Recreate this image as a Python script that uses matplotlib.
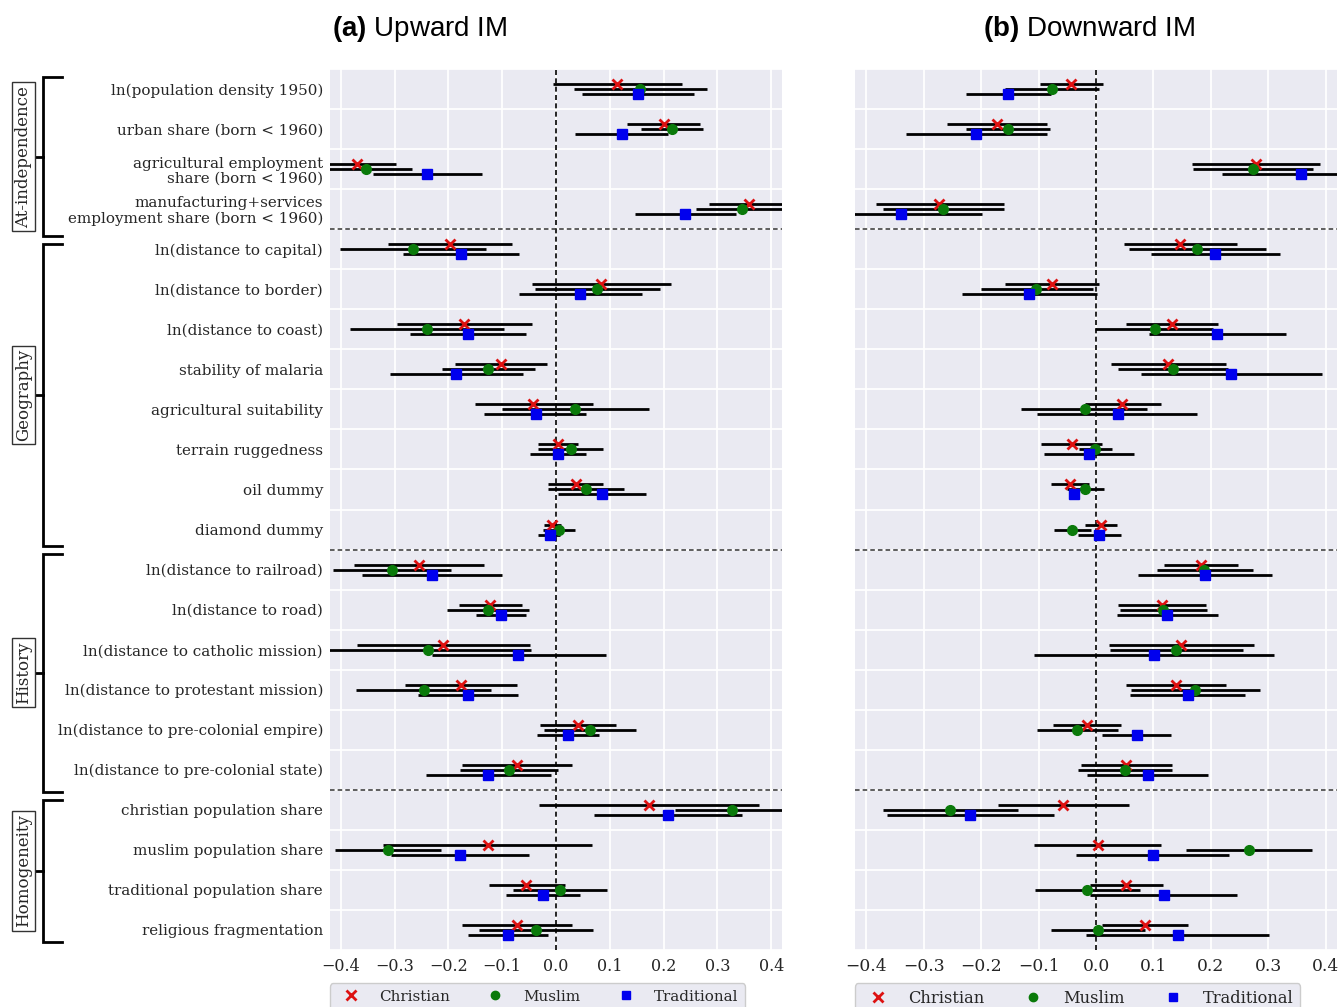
import matplotlib
matplotlib.use("Agg")
import matplotlib.pyplot as plt
import matplotlib.transforms as mtransforms
from matplotlib.lines import Line2D
import numpy as np

# ---------------- data ----------------
labels = [
    "ln(population density 1950)",
    "urban share (born < 1960)",
    "agricultural employment\nshare (born < 1960)",
    "manufacturing+services\nemployment share (born < 1960)",
    "ln(distance to capital)",
    "ln(distance to border)",
    "ln(distance to coast)",
    "stability of malaria",
    "agricultural suitability",
    "terrain ruggedness",
    "oil dummy",
    "diamond dummy",
    "ln(distance to railroad)",
    "ln(distance to road)",
    "ln(distance to catholic mission)",
    "ln(distance to protestant mission)",
    "ln(distance to pre-colonial empire)",
    "ln(distance to pre-colonial state)",
    "christian population share",
    "muslim population share",
    "traditional population share",
    "religious fragmentation",
]
groups = ["At-independence", "Geography", "History", "Homogeneity"]
group_spans = [(-0.3, 3.68), (3.88, 11.4), (11.6, 17.55), (17.75, 21.3)]
separators = [3.5, 11.5, 17.5]
series = ["Christian", "Muslim", "Traditional"]

# Panel (a) Upward IM
up_chr = [0.114, 0.200, -0.370, 0.359, -0.197, 0.084, -0.171, -0.103, -0.042, 0.003, 0.037, -0.007,
          -0.255, -0.123, -0.210, -0.177, 0.040, -0.073, 0.172, -0.127, -0.055, -0.073]
up_chr_lo = [-0.005, 0.132, -0.442, 0.285, -0.312, -0.044, -0.296, -0.188, -0.150, -0.034, -0.015, -0.023,
             -0.375, -0.181, -0.369, -0.281, -0.030, -0.174, -0.032, -0.321, -0.125, -0.174]
up_chr_hi = [0.234, 0.268, -0.298, 0.433, -0.081, 0.213, -0.045, -0.017, 0.068, 0.040, 0.088, 0.009,
             -0.134, -0.064, -0.049, -0.073, 0.112, 0.030, 0.377, 0.067, 0.016, 0.029]
up_mus = [0.156, 0.216, -0.353, 0.345, -0.265, 0.076, -0.239, -0.126, 0.036, 0.027, 0.055, 0.006,
          -0.305, -0.126, -0.237, -0.246, 0.064, -0.088, 0.327, -0.312, 0.007, -0.037]
up_mus_lo = [0.034, 0.158, -0.439, 0.261, -0.401, -0.039, -0.382, -0.212, -0.100, -0.033, -0.015, -0.024,
             -0.414, -0.202, -0.427, -0.371, -0.022, -0.179, 0.222, -0.411, -0.079, -0.143]
up_mus_hi = [0.280, 0.274, -0.267, 0.429, -0.130, 0.194, -0.096, -0.039, 0.172, 0.087, 0.126, 0.035,
             -0.196, -0.050, -0.047, -0.120, 0.149, 0.003, 0.432, -0.213, 0.095, 0.068]
up_tra = [0.153, 0.122, -0.239, 0.240, -0.176, 0.045, -0.164, -0.186, -0.038, 0.003, 0.086, -0.012,
          -0.231, -0.102, -0.070, -0.164, 0.022, -0.126, 0.208, -0.179, -0.024, -0.089]
up_tra_lo = [0.049, 0.035, -0.341, 0.146, -0.285, -0.069, -0.271, -0.308, -0.133, -0.048, 0.003, -0.033,
             -0.360, -0.148, -0.231, -0.256, -0.035, -0.241, 0.071, -0.307, -0.092, -0.163]
up_tra_hi = [0.257, 0.209, -0.137, 0.334, -0.068, 0.160, -0.056, -0.062, 0.056, 0.055, 0.168, 0.007,
             -0.101, -0.055, 0.092, -0.071, 0.079, -0.009, 0.345, -0.051, 0.045, -0.014]

# Panel (b) Downward IM
dn_chr = [-0.043, -0.173, 0.278, -0.273, 0.147, -0.077, 0.132, 0.126, 0.046, -0.042, -0.046, 0.008,
          0.183, 0.115, 0.148, 0.139, -0.016, 0.052, -0.057, 0.003, 0.053, 0.086]
dn_chr_lo = [-0.098, -0.260, 0.168, -0.384, 0.049, -0.159, 0.052, 0.026, -0.020, -0.095, -0.078, -0.020,
             0.118, 0.039, 0.022, 0.052, -0.075, -0.027, -0.171, -0.108, -0.011, 0.011]
dn_chr_hi = [0.012, -0.085, 0.390, -0.160, 0.245, 0.006, 0.213, 0.227, 0.113, 0.011, -0.013, 0.037,
             0.248, 0.191, 0.276, 0.227, 0.043, 0.132, 0.058, 0.114, 0.117, 0.161]
dn_mus = [-0.077, -0.154, 0.273, -0.267, 0.176, -0.104, 0.102, 0.135, -0.020, -0.001, -0.019, -0.041,
          0.189, 0.117, 0.140, 0.172, -0.033, 0.051, -0.254, 0.266, -0.015, 0.003]
dn_mus_lo = [-0.158, -0.227, 0.169, -0.371, 0.058, -0.201, -0.001, 0.038, -0.131, -0.030, -0.050, -0.074,
             0.106, 0.041, 0.024, 0.061, -0.103, -0.031, -0.371, 0.156, -0.107, -0.079]
dn_mus_hi = [0.005, -0.080, 0.378, -0.161, 0.296, -0.006, 0.204, 0.230, 0.089, 0.028, 0.014, -0.009,
             0.273, 0.193, 0.257, 0.285, 0.038, 0.133, -0.136, 0.376, 0.077, 0.086]
dn_tra = [-0.153, -0.209, 0.357, -0.339, 0.208, -0.116, 0.211, 0.236, 0.038, -0.012, -0.038, 0.006,
          0.190, 0.124, 0.101, 0.160, 0.071, 0.090, -0.219, 0.099, 0.118, 0.143]
dn_tra_lo = [-0.227, -0.331, 0.219, -0.479, 0.096, -0.233, 0.092, 0.079, -0.102, -0.090, -0.043, -0.032,
             0.074, 0.036, -0.108, 0.060, 0.011, -0.016, -0.364, -0.034, -0.010, -0.017]
dn_tra_hi = [-0.079, -0.086, 0.495, -0.199, 0.321, 0.001, 0.331, 0.394, 0.176, 0.067, -0.033, 0.043,
             0.307, 0.213, 0.310, 0.259, 0.131, 0.196, -0.073, 0.231, 0.245, 0.302]

xticks = [-0.4, -0.3, -0.2, -0.1, 0.0, 0.1, 0.2, 0.3, 0.4]

# ---------------- style ----------------
W, H = 1339, 1007
plt.rcParams["font.family"] = ["DejaVu Serif"]
plt.rcParams["mathtext.fontset"] = "custom"
plt.rcParams["mathtext.bf"] = "Liberation Sans:bold"
plt.rcParams["mathtext.rm"] = "Liberation Sans"

BG = "#EAEAF2"
TXT = "#262626"
colors = ["#dd1111", "#0a7a0a", "#0000ee"]
markers = ["x", "o", "s"]
offsets = [-0.125, 0.0, 0.125]

fig = plt.figure(figsize=(W / 100, H / 100), dpi=100)
fig.patch.set_facecolor("white")

ax_a = fig.add_axes([330 / W, (H - 950) / H, 452 / W, 881 / H])
ax_b = fig.add_axes([855 / W, (H - 950) / H, 482 / W, 881 / H])

# (axis, data, xtick font size, legend font size)
panels = [
    (ax_a, [(up_chr, up_chr_lo, up_chr_hi), (up_mus, up_mus_lo, up_mus_hi), (up_tra, up_tra_lo, up_tra_hi)], 11.5, 10.9),
    (ax_b, [(dn_chr, dn_chr_lo, dn_chr_hi), (dn_mus, dn_mus_lo, dn_mus_hi), (dn_tra, dn_tra_lo, dn_tra_hi)], 12.3, 11.7),
]

rows = np.arange(len(labels))
for ax, data, fs, lfs in panels:
    ax.set_facecolor(BG)
    for s in ax.spines.values():
        s.set_visible(False)
    ax.set_xlim(-0.42, 0.42)
    ax.set_ylim(len(labels) - 0.5, -0.5)
    ax.set_xticks(xticks)
    ax.set_xticklabels([f"{t:.1f}".replace("-", "\u2212") for t in xticks])
    ax.set_yticks(rows)
    ax.set_yticks(np.arange(-0.5, len(labels), 1.0), minor=True)
    ax.grid(False)
    ax.grid(True, axis="x", which="major", color="white", lw=1.3, zorder=0)
    ax.grid(True, axis="y", which="minor", color="white", lw=1.3, zorder=0)
    ax.set_axisbelow(True)
    ax.tick_params(axis="both", which="both", length=0, colors=TXT)
    ax.tick_params(axis="x", pad=6, labelsize=fs)
    ax.tick_params(axis="y", pad=5, labelsize=10.9)
    ax.axvline(0, color="black", ls="--", lw=1.2, zorder=1, dashes=(3, 2))
    for sp in separators:
        ax.axhline(sp, color="#333333", ls="--", lw=1.1, zorder=1, dashes=(3, 2))
    for k, (coef, lo, hi) in enumerate(data):
        y = rows + offsets[k]
        coef = np.array(coef)
        lo = np.array(lo)
        hi = np.array(hi)
        ax.hlines(y, lo, hi, color="black", lw=2.0, zorder=2)
        mew = 2.0 if markers[k] == "x" else 1.0
        ms = 7 if markers[k] != "s" else 7.2
        ax.plot(coef, y, ls="none", marker=markers[k], ms=ms, color=colors[k],
                mec=colors[k], mew=mew, zorder=3)
    handles = [Line2D([], [], ls="none", marker=markers[k], color=colors[k], mec=colors[k],
                      ms=6 if markers[k] != "x" else 6.5, mew=2.0 if markers[k] == "x" else 1.0)
               for k in range(3)]
    leg = ax.legend(handles, series, ncol=3, loc="upper left", bbox_to_anchor=(0.0, -0.038),
                    borderaxespad=0.0, frameon=True, fontsize=lfs, columnspacing=2.0,
                    handletextpad=0.85, borderpad=0.4, facecolor=BG, edgecolor="#cccccc",
                    framealpha=1.0)
    for t in leg.get_texts():
        t.set_color(TXT)

ax_a.set_yticklabels(labels, linespacing=1.1)
ax_b.set_yticklabels([])

# Titles
fig.text(332 / W, 1 - 36 / H, r"$\bf{(a)}$ Upward IM", fontsize=20, ha="left", va="baseline",
         family="Liberation Sans", color="black")
fig.text(983 / W, 1 - 36 / H, r"$\bf{(b)}$ Downward IM", fontsize=20, ha="left", va="baseline",
         family="Liberation Sans", color="black")

# Group brackets
trans = mtransforms.blended_transform_factory(fig.transFigure, ax_a.transData)
xv, xa, xm = 43 / W, 62 / W, 36 / W
for name, (y0, y1) in zip(groups, group_spans):
    fig.add_artist(Line2D([xa, xv, xv, xa], [y0, y0, y1, y1], transform=trans, color="black",
                          lw=2.0, clip_on=False, solid_joinstyle="miter"))
    ym = (y0 + y1) / 2
    fig.add_artist(Line2D([xm, xv], [ym, ym], transform=trans, color="black", lw=2.0, clip_on=False))
    fig.text(23.5 / W, ym, name, transform=trans, rotation=90, ha="center", va="center",
             fontsize=12, color=TXT,
             bbox=dict(boxstyle="square,pad=0.2", facecolor="white", edgecolor="#333333", lw=1.0))

fig.savefig("out.png", dpi=100, facecolor="white")
